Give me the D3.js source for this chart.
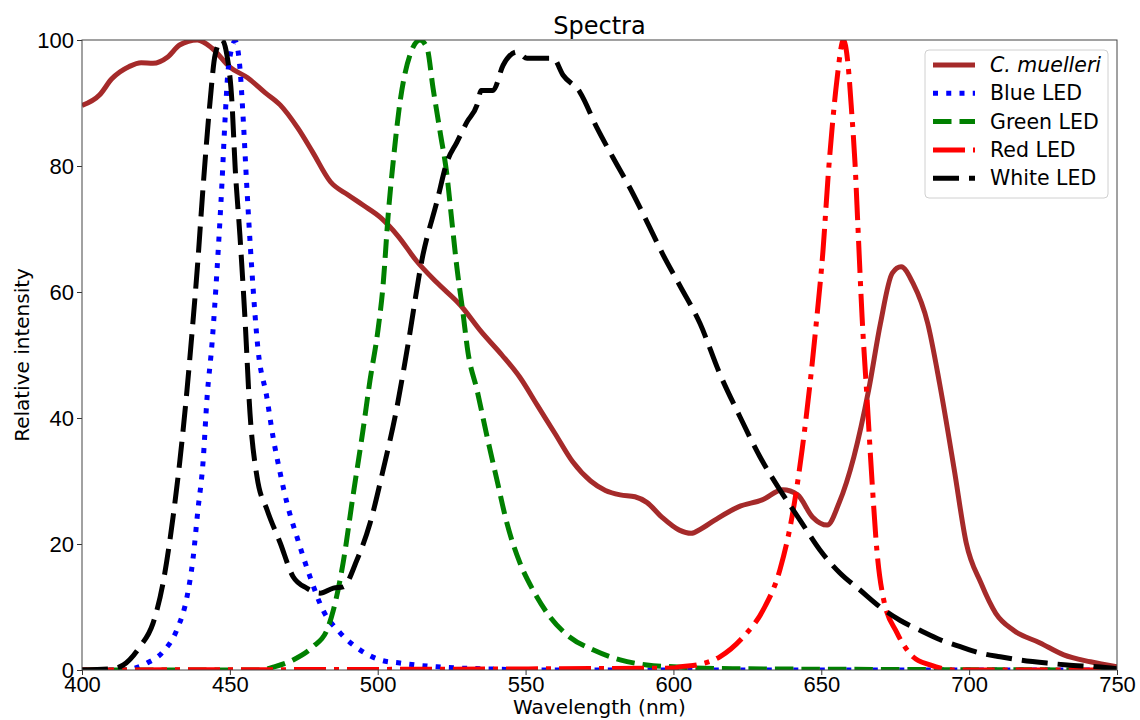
<!DOCTYPE html>
<html>
<head>
<meta charset="utf-8">
<title>Spectra</title>
<script src="https://d3js.org/d3.v7.min.js"></script>
<style>
    body {
        margin: 0;
        background: #fff;
        font-family: 'DejaVu Sans', sans-serif;
    }
    .axis text {
        font-size: 22px;
        fill: #000;
    }
    .axis path, .axis line {
        stroke: #333;
    }
    .frame {
        fill: none;
        stroke: #444;
        stroke-width: 1px;
    }
    .spectrum {
        fill: none;
        stroke-width: 5px;
        stroke-linejoin: round;
    }
</style>
</head>
<body>
<svg id="chart" width="1140" height="720"></svg>
<script>
    // values (wavelength in nm, relative intensity)
    var xTicks = [400, 450, 500, 550, 600, 650, 700, 750];
    var yTicks = [0, 20, 40, 60, 80, 100];

    var muelleriWl = [400,406,410,416,420,424,429,433,439,444,450,456,462,467,473,478,484,490,495,501,507,513,520,528,535,542,548,554,560,566,572,577,582,587,591,596,602,606,609,614,622,630,637,642,647,652,656,661,666,670,674,677,681,686,690,695,699,704,709,715,724,732,741,750];
    var muelleriVal = [89.6,91.3,93.8,95.8,96.4,96.3,97.3,99.2,100,98.7,95.7,94,91.6,89.7,86,82.2,77.5,75.4,73.8,71.8,68.8,65,61.5,57.9,53.7,50,46.5,42,37.5,33,30,28.5,27.8,27.5,26.6,24.3,22.2,21.7,22.3,23.8,25.9,27,28.6,27.8,24.3,23,26.5,33.8,44.4,55,63,64,61.4,55,45.5,31.7,20.2,13.8,9,6.3,4.3,2.4,1.3,0.5];

    var blueWl = [400,414,422,427.4,432,435.5,437.5,439.2,440.9,442.3,444,445.7,447.3,448.4,449.5,451.8,453.4,454.5,455.7,457.4,459.5,462.5,464.6,467,469.3,472.7,477.1,481.5,487.3,494,500.8,507.5,520,535,560,750];
    var blueVal = [0,0,1.1,2.9,6.3,11.6,17.5,25.4,32.8,43.3,52,63.8,77,87.6,95.6,99.8,95.6,87.6,77,63.8,51,43.3,37,31.3,26.5,21.1,14.8,9.5,5.9,3.2,1.6,1.1,0.5,0.2,0,0];

    var greenWl = [400,460,465,471.4,478.1,482.8,485,488.3,491.6,495,497.4,500.1,501.8,503.5,505.3,507.5,510.9,514.3,516.7,518.7,521.1,523.4,525.1,526.8,528.8,530.5,533.6,537,540.3,543.7,548.1,552.5,558.3,565,572.8,582,591,600,620,750];
    var greenVal = [0,0,0.5,1.6,3.7,6.3,9.5,17,27.5,38,46,54,61,72,81,90,97.6,100,98.7,92.4,85.4,78.6,71.1,63.8,56.8,50.5,44.4,37,30.2,23.3,17,12.7,8.4,5.2,3.2,1.6,0.8,0.5,0.2,0];

    var redWl = [400,600,602,608,615.7,623.5,630.3,636,640.1,643.5,646.2,648.5,650.6,652.3,653.6,655.3,657.5,659,660.3,661.4,662.4,663.8,665.5,667.2,668.8,670.9,675.6,681,686.8,695,750];
    var redVal = [0,0.3,0.5,0.8,2.1,5.2,9.5,15.9,24.3,34.9,45.5,56,66.7,78.3,85.7,93.7,100,96.3,88.4,80.5,70.3,56,42.9,29.7,19,11.6,5.9,2.1,0.8,0,0];

    var whiteWl = [400,410,414,419.6,424,427.4,430.8,433,435.5,437.2,439,441,443.3,445,447.3,449,450.7,451.8,453.4,455.1,456.8,459.2,462.6,467,471.4,476,480.5,485,488.3,493,497.4,501.8,506.5,510,515.3,520,523.4,526.8,530.2,533.6,535,539,542.4,547.1,550.5,554.9,559.3,562.7,568.4,574.2,579.6,585.3,591.1,596.5,602.2,609,615.7,622.5,629.3,636,642.8,649.6,656.3,663.1,669.9,676.6,683.4,690.2,697,703.7,710.5,717.2,726.3,733.1,743.2,750];
    var whiteVal = [0,0.2,0.8,3.7,7.4,13.8,24.3,32.8,44.4,53.5,63.8,77,90.2,97.6,100,97.6,90.2,79.7,69,55.9,40.8,30.6,25.4,20.2,14.8,13,12.2,13,13.2,17.5,23.3,31.7,41.7,51,65.9,74.3,80.6,83.8,87,89.7,92,92,96,98.1,97.1,97.1,97.1,94.4,91.7,86,81.3,76.5,71.1,65.9,61,55,47,40.2,33.8,28.6,23.8,19,15.4,12.7,10,7.9,6.3,4.8,3.7,2.7,2.1,1.6,1.1,0.8,0.5,0.2];

    var seriesNames = ["C. muelleri", "Blue LED", "Green LED", "Red LED", "White LED"];
    var seriesColors = ["#a52a2a", "#0000ff", "#008000", "#ff0000", "#000000"];
    var seriesDash = [null, "5,8.25", "18.5,8", "32,8,5,8", "26,10"];

    var series = [
        {wl: muelleriWl, val: muelleriVal},
        {wl: blueWl, val: blueVal},
        {wl: greenWl, val: greenVal},
        {wl: redWl, val: redVal},
        {wl: whiteWl, val: whiteVal}
    ];

    var svg = d3.select("#chart");
    const margin = {top: 40, right: 23, bottom: 50, left: 82};
    const width = 1140 - margin.left - margin.right;
    const height = 720 - margin.top - margin.bottom;

    var x = d3.scaleLinear().domain([400, 750]).range([0, width]);
    var y = d3.scaleLinear().domain([0, 100]).range([height, 0]);

    var plot = svg.append("g")
        .attr("transform", "translate(" + margin.left + "," + margin.top + ")");

    plot.append("clipPath").attr("id", "clip")
        .append("rect").attr("width", width).attr("height", height);

    var line = d3.line()
        .x(d => x(d[0]))
        .y(d => y(d[1]))
        .curve(d3.curveMonotoneX);

    series.forEach((s, i) => {
        var pts = s.wl.map((w, k) => [w, s.val[k]]);
        plot.append("path")
            .datum(pts)
            .attr("class", "spectrum")
            .attr("clip-path", "url(#clip)")
            .attr("stroke", seriesColors[i])
            .attr("stroke-dasharray", seriesDash[i])
            .attr("d", line);
    });

    // axes
    plot.append("g")
        .attr("class", "axis")
        .attr("transform", "translate(0," + height + ")")
        .call(d3.axisBottom(x).tickValues(xTicks).tickSize(5).tickPadding(1))
        .call(g => g.select(".domain").remove());
    plot.append("g")
        .attr("class", "axis")
        .call(d3.axisLeft(y).tickValues(yTicks).tickSize(5).tickPadding(3))
        .call(g => g.select(".domain").remove());

    plot.append("rect")
        .attr("class", "frame")
        .attr("width", width)
        .attr("height", height);

    // labels
    svg.append("text")
        .attr("x", margin.left + width / 2)
        .attr("y", 34)
        .attr("text-anchor", "middle")
        .style("font-size", "24px")
        .text("Spectra");
    svg.append("text")
        .attr("x", margin.left + width / 2)
        .attr("y", 714)
        .attr("text-anchor", "middle")
        .style("font-size", "20px")
        .text("Wavelength (nm)");
    svg.append("text")
        .attr("transform", "translate(29," + (margin.top + height / 2) + ") rotate(-90)")
        .attr("text-anchor", "middle")
        .style("font-size", "20px")
        .text("Relative intensity");

    // legend
    var legend = svg.append("g").attr("transform", "translate(925,50)");
    legend.append("rect")
        .attr("width", 183)
        .attr("height", 148)
        .attr("rx", 4)
        .attr("fill", "#fff")
        .attr("fill-opacity", 0.8)
        .attr("stroke", "#d0d0d0");
    seriesNames.forEach((name, i) => {
        var ly = 15 + i * 28.3;
        legend.append("line")
            .attr("x1", 8).attr("x2", 50)
            .attr("y1", ly).attr("y2", ly)
            .attr("stroke", seriesColors[i])
            .attr("stroke-width", 5)
            .attr("stroke-dasharray", seriesDash[i]);
        legend.append("text")
            .attr("x", 65)
            .attr("y", ly + 7)
            .style("font-size", "20.5px")
            .style("font-style", i == 0 ? "italic" : "normal")
            .text(name);
    });
</script>
</body>
</html>
